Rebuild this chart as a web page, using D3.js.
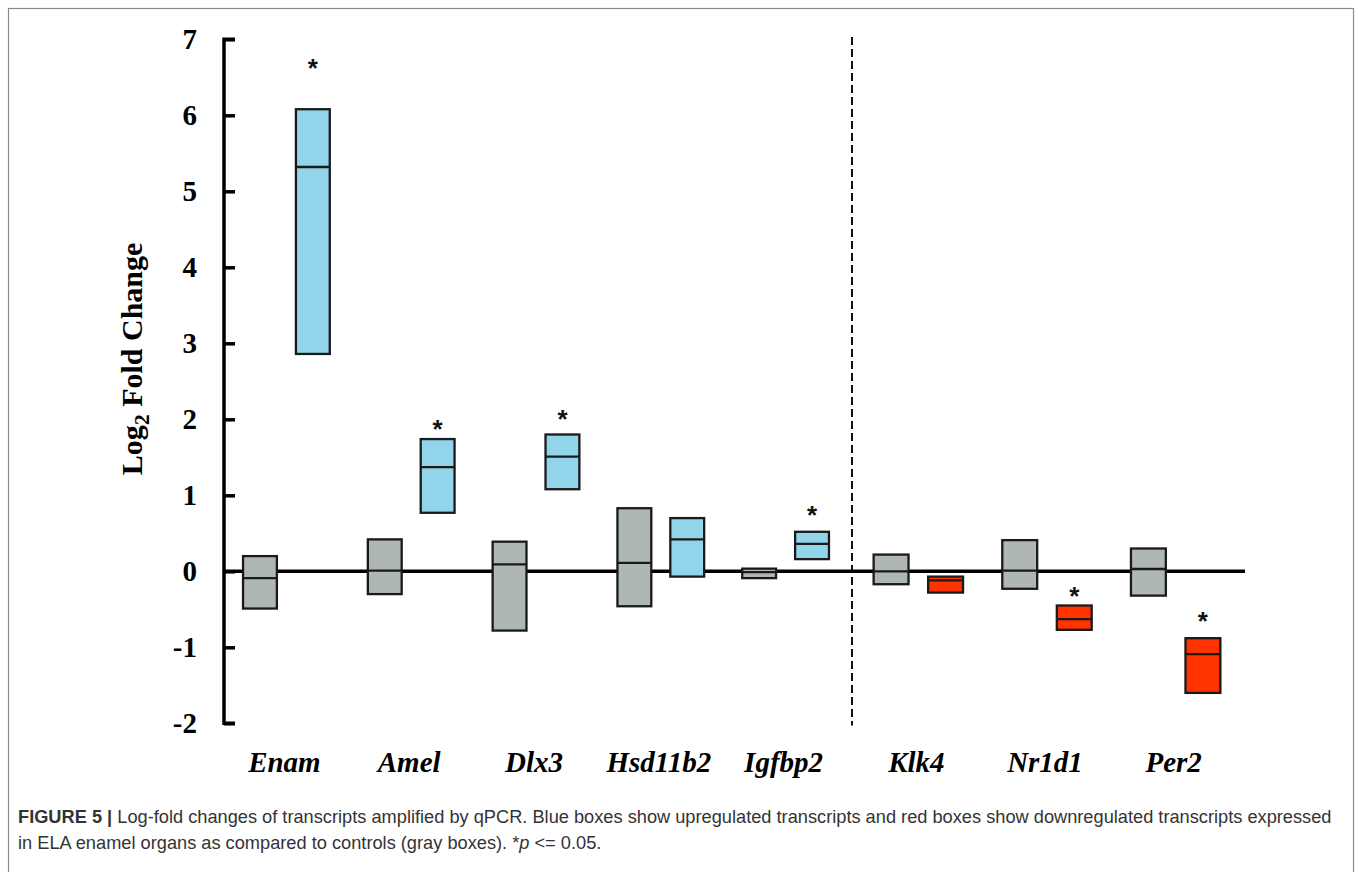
<!DOCTYPE html>
<html>
<head>
<meta charset="utf-8">
<script src="https://cdn.jsdelivr.net/npm/d3@7"></script>
<style>
  body { margin: 0; background: #fff; }
  svg { display: block; }
</style>
</head>
<body>
<svg id="chart" width="1358" height="872"></svg>
<script>
// genes left and right of the dashed separator
const leftGenes = ["Enam", "Amel", "Dlx3", "Hsd11b2", "Igfbp2"];
const rightGenes = ["Klk4", "Nr1d1", "Per2"];
const genes = leftGenes.concat(rightGenes);

// control (gray) boxes: lower, median, upper log2 fold change
const ctrlLow = [-0.49, -0.30, -0.78, -0.46, -0.09, -0.17, -0.23, -0.32];
const ctrlMed = [-0.09, 0.01, 0.09, 0.11, -0.01, 0.0, 0.01, 0.03];
const ctrlHigh = [0.20, 0.42, 0.39, 0.83, 0.035, 0.22, 0.41, 0.30];

// ELA boxes
const elaLow = [2.86, 0.77, 1.08, -0.07, 0.16, -0.28, -0.77, -1.60];
const elaMed = [5.32, 1.37, 1.51, 0.42, 0.36, -0.12, -0.63, -1.09];
const elaHigh = [6.08, 1.74, 1.80, 0.70, 0.52, -0.07, -0.45, -0.88];
const elaDir = ["up", "up", "up", "up", "up", "down", "down", "down"];

// significance marks (level in log2 units, null = none)
const sigLevel = [6.67, 1.93, 2.06, null, 0.80, null, -0.27, -0.60];

const yTicks = [-2, -1, 0, 1, 2, 3, 4, 5, 6, 7];

const colors = { ctrl: "#aeb6b6", up: "#92d5eb", down: "#ff3300" };

const svg = d3.select("#chart");

// outer frame
svg.append("rect")
  .attr("x", 8.5).attr("y", 8.5)
  .attr("width", 1345).attr("height", 880)
  .attr("fill", "none")
  .attr("stroke", "#8a8a8a")
  .attr("stroke-width", 1.2);

const axisX = 224;
const dashX = 852;
const zeroEnd = 1245;

const y = d3.scaleLinear().domain([-2, 7]).range([723.3, 39.3]);

const xLeft = d3.scaleBand().domain(leftGenes).range([axisX, 848]);
const xRight = d3.scaleBand().domain(rightGenes).range([854, 1240]);
const groupX = (g) => leftGenes.includes(g) ? xLeft(g) : xRight(g);
const groupW = (g) => leftGenes.includes(g) ? xLeft.bandwidth() : xRight.bandwidth();

const inner = (g) => d3.scaleBand()
  .domain(["ctrl", "ela"])
  .range([groupX(g), groupX(g) + groupW(g)])
  .paddingInner(0.36)
  .paddingOuter(0.36);

// build box rows
const boxes = [];
genes.forEach((g, i) => {
  boxes.push({ gene: g, kind: "ctrl", lo: ctrlLow[i], med: ctrlMed[i], hi: ctrlHigh[i], fill: colors.ctrl });
  boxes.push({ gene: g, kind: "ela", lo: elaLow[i], med: elaMed[i], hi: elaHigh[i], fill: colors[elaDir[i]] });
});

// y axis
const yAxis = d3.axisRight(y).tickValues(yTicks).tickSize(11).tickFormat("");
const yG = svg.append("g").attr("transform", `translate(${axisX},0)`).call(yAxis);
yG.select(".domain")
  .attr("d", `M11,${y(7)}H0V${y(-2)}H11`)
  .attr("stroke", "#000")
  .attr("stroke-width", 3.5);
yG.selectAll(".tick line").attr("stroke", "#000").attr("stroke-width", 3.5);

svg.append("g").selectAll("text")
  .data(yTicks)
  .enter()
  .append("text")
  .attr("x", 197)
  .attr("y", (d) => y(d))
  .attr("dy", "0.34em")
  .attr("text-anchor", "end")
  .style("font-family", "'Liberation Serif', 'Times New Roman', serif")
  .style("font-weight", "bold")
  .style("font-size", "29px")
  .text((d) => d);

// y axis title
const yTitle = svg.append("text")
  .attr("transform", "translate(142,359) rotate(-90)")
  .attr("text-anchor", "middle")
  .style("font-family", "'Liberation Serif', 'Times New Roman', serif")
  .style("font-weight", "bold")
  .style("font-size", "30px");
yTitle.append("tspan").text("Log");
yTitle.append("tspan").attr("dy", 7).style("font-size", "22px").text("2");
yTitle.append("tspan").attr("dy", -7).text(" Fold Change");

// dashed separator
svg.append("line")
  .attr("x1", dashX).attr("x2", dashX)
  .attr("y1", y(7.03)).attr("y2", y(-2.03))
  .attr("stroke", "#111")
  .attr("stroke-width", 2)
  .attr("stroke-dasharray", "8,4");

// zero line
svg.append("line")
  .attr("x1", axisX).attr("x2", zeroEnd)
  .attr("y1", y(0)).attr("y2", y(0))
  .attr("stroke", "#000")
  .attr("stroke-width", 3.5);

// boxes
const box = svg.append("g").selectAll(".box")
  .data(boxes)
  .enter()
  .append("g")
  .attr("class", "box");

box.append("rect")
  .attr("x", (d) => inner(d.gene)(d.kind))
  .attr("width", (d) => inner(d.gene).bandwidth())
  .attr("y", (d) => y(d.hi))
  .attr("height", (d) => y(d.lo) - y(d.hi))
  .attr("fill", (d) => d.fill)
  .attr("stroke", "#1a1a1a")
  .attr("stroke-width", 2.3);

box.append("line")
  .attr("x1", (d) => inner(d.gene)(d.kind))
  .attr("x2", (d) => inner(d.gene)(d.kind) + inner(d.gene).bandwidth())
  .attr("y1", (d) => y(d.med))
  .attr("y2", (d) => y(d.med))
  .attr("stroke", "#1a1a1a")
  .attr("stroke-width", 2.3);

// significance stars
svg.append("g").selectAll("text")
  .data(genes.map((g, i) => ({ gene: g, level: sigLevel[i] })).filter((d) => d.level !== null))
  .enter()
  .append("text")
  .attr("x", (d) => inner(d.gene)("ela") + inner(d.gene).bandwidth() / 2)
  .attr("y", (d) => y(d.level))
  .attr("dy", 13)
  .attr("text-anchor", "middle")
  .style("font-family", "'Liberation Sans', Arial, sans-serif")
  .style("font-weight", "bold")
  .style("font-size", "26px")
  .attr("fill", "#111")
  .text("*");

// gene labels
svg.append("g").selectAll("text")
  .data(genes)
  .enter()
  .append("text")
  .attr("x", (g) => groupX(g) + groupW(g) / 2 - 2)
  .attr("y", 772)
  .attr("text-anchor", "middle")
  .style("font-family", "'Liberation Serif', 'Times New Roman', serif")
  .style("font-weight", "bold")
  .style("font-style", "italic")
  .style("font-size", "29px")
  .text((g) => g);

// caption
const capFont = "'Liberation Sans', Arial, sans-serif";
const cap1 = svg.append("text")
  .attr("x", 18).attr("y", 823)
  .attr("fill", "#333")
  .style("font-family", capFont)
  .style("font-size", "15px");
cap1.append("tspan").style("font-weight", "bold").text("FIGURE 5 | ");
cap1.append("tspan").text("Log-fold changes of transcripts amplified by qPCR. Blue boxes show upregulated transcripts and red boxes show downregulated transcripts expressed");

// fit first caption line to the frame width
const w1 = cap1.node().getComputedTextLength();
const capSize = 15 * 1315 / w1;
cap1.style("font-size", capSize + "px");

const cap2 = svg.append("text")
  .attr("x", 18).attr("y", 849)
  .attr("fill", "#333")
  .style("font-family", capFont)
  .style("font-size", capSize + "px");
cap2.append("tspan").text("in ELA enamel organs as compared to controls (gray boxes). *");
cap2.append("tspan").style("font-style", "italic").text("p");
cap2.append("tspan").text(" <= 0.05.");
</script>
</body>
</html>
